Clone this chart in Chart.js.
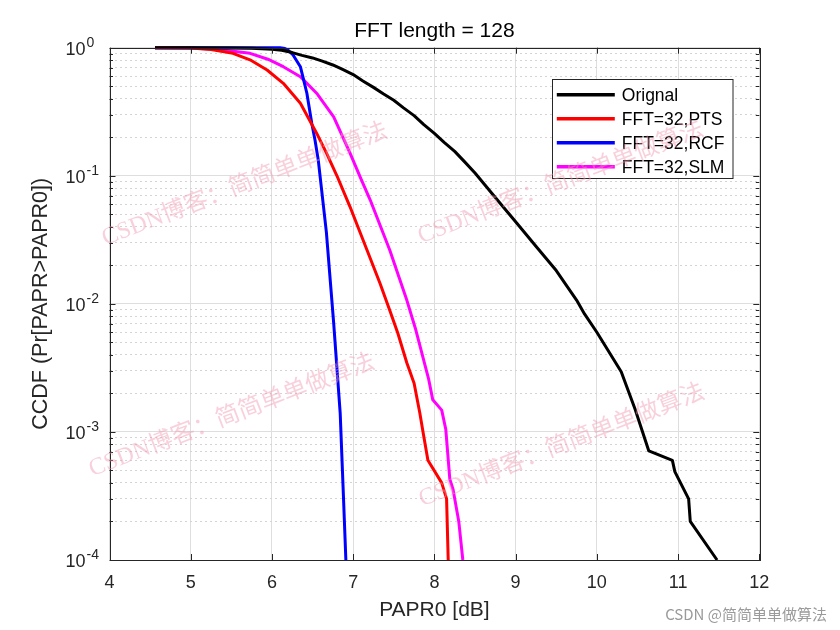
<!DOCTYPE html>
<html>
<head>
<meta charset="utf-8">
<title>FFT length = 128</title>
<script src="https://cdn.jsdelivr.net/npm/chart.js@4.4.1/dist/chart.umd.min.js"></script>
<style>
  body { margin: 0; background: #fff; }
</style>
</head>
<body>
<canvas id="myChart" width="840" height="630"></canvas>
<script>
// CCDF curves: PAPR0 [dB] -> Pr[PAPR > PAPR0]
var origX = [4.56, 5.0, 5.5, 5.75, 6.0, 6.12, 6.25, 6.37, 6.5, 6.62, 6.75, 6.87, 7.0, 7.12, 7.25, 7.37, 7.5, 7.62, 7.75, 7.87, 8.0, 8.12, 8.25, 8.37, 8.5, 8.62, 8.75, 9.0, 9.25, 9.5, 9.75, 9.85, 10.0, 10.3, 10.47, 10.64, 10.93, 10.96, 11.13, 11.15, 11.48];
var origY = [1, 1, 0.996, 0.989, 0.973, 0.955, 0.916, 0.871, 0.832, 0.785, 0.733, 0.676, 0.617, 0.55, 0.49, 0.437, 0.389, 0.339, 0.295, 0.251, 0.214, 0.182, 0.155, 0.129, 0.105, 0.0851, 0.0676, 0.0437, 0.0282, 0.0182, 0.0107, 0.0083, 0.006, 0.00295, 0.00151, 0.00071, 0.0006, 0.00049, 0.0003, 0.0002, 0.0001];

var ptsX = [4.56, 5.0, 5.25, 5.52, 5.73, 5.94, 6.14, 6.35, 6.55, 6.67, 6.8, 6.96, 7.17, 7.33, 7.45, 7.55, 7.66, 7.75, 7.82, 7.86, 7.92, 8.09, 8.15, 8.17];
var ptsY = [1, 0.993, 0.966, 0.904, 0.804, 0.67, 0.527, 0.368, 0.215, 0.151, 0.1, 0.0575, 0.0263, 0.0145, 0.0089, 0.0059, 0.00347, 0.0024, 0.00141, 0.001, 0.0006, 0.0004, 0.0003, 0.0001];

var rcfX = [4.56, 6.1, 6.16, 6.2, 6.26, 6.35, 6.39, 6.43, 6.49, 6.53, 6.57, 6.67, 6.76, 6.84, 6.88, 6.91];
var rcfY = [1, 0.998, 0.985, 0.955, 0.877, 0.711, 0.56, 0.441, 0.257, 0.19, 0.133, 0.0363, 0.00708, 0.00141, 0.000316, 0.0001];

var slmX = [4.56, 5.0, 5.3, 5.5, 5.73, 5.95, 6.14, 6.35, 6.55, 6.76, 6.96, 7.1, 7.21, 7.45, 7.66, 7.77, 7.93, 7.98, 8.09, 8.14, 8.19, 8.23, 8.3, 8.35];
var slmY = [1, 0.995, 0.973, 0.944, 0.904, 0.813, 0.711, 0.594, 0.441, 0.288, 0.151, 0.0933, 0.0646, 0.0263, 0.0107, 0.0063, 0.00257, 0.00178, 0.00148, 0.00105, 0.000427, 0.000355, 0.0002, 0.0001];

var seriesNames = ['Orignal', 'FFT=32,PTS', 'FFT=32,RCF', 'FFT=32,SLM'];
var seriesColors = ['#000000', '#ff0000', '#0000ff', '#ff00ff'];

var xTicks = [4, 5, 6, 7, 8, 9, 10, 11, 12];
var yDecades = [1, 0.1, 0.01, 0.001, 0.0001];
var yExponents = ['0', '-1', '-2', '-3', '-4'];

var FONT = '"Liberation Sans", Arial, sans-serif';

function pairs(xs, ys) {
  return xs.map(function (x, i) { return { x: x, y: ys[i] }; });
}

var yMinor = [];
yDecades.slice(1).forEach(function (d) {
  for (var k = 2; k <= 9; k++) yMinor.push(d * k);
});

// axes box + inward tick marks, like a matlab axes
var axesBox = {
  id: 'axesBox',
  afterDatasetsDraw: function (chart) {
    var c = chart.ctx, a = chart.chartArea;
    var xs = chart.scales.x, ys = chart.scales.y;
    c.save();
    c.strokeStyle = '#262626';
    c.lineWidth = 1;
    c.beginPath();
    xTicks.forEach(function (v) {
      var px = Math.round(xs.getPixelForValue(v)) + 0.5;
      c.moveTo(px, a.bottom); c.lineTo(px, a.bottom - 6);
      c.moveTo(px, a.top); c.lineTo(px, a.top + 6);
    });
    yDecades.forEach(function (v) {
      var py = Math.round(ys.getPixelForValue(v)) + 0.5;
      c.moveTo(a.left, py); c.lineTo(a.left + 6, py);
      c.moveTo(a.right, py); c.lineTo(a.right - 6, py);
    });
    yMinor.forEach(function (v) {
      var py = Math.round(ys.getPixelForValue(v)) + 0.5;
      c.moveTo(a.left, py); c.lineTo(a.left + 3.5, py);
      c.moveTo(a.right, py); c.lineTo(a.right - 3.5, py);
    });
    c.stroke();
    c.strokeRect(Math.round(a.left) + 0.5, Math.round(a.top) + 0.5,
      Math.round(a.right - a.left), Math.round(a.bottom - a.top));
    c.restore();
  },
  afterDraw: function (chart) {
    var c = chart.ctx, a = chart.chartArea, ys = chart.scales.y;
    c.save();
    // title centred over the plot box
    c.fillStyle = '#000';
    c.font = '21px ' + FONT;
    c.textAlign = 'center';
    c.textBaseline = 'middle';
    c.fillText('FFT length = 128', (a.left + a.right) / 2, 31);
    // 10^n labels with a raised exponent
    c.fillStyle = '#262626';
    yDecades.forEach(function (v, i) {
      var py = ys.getPixelForValue(v);
      c.font = '18px ' + FONT;
      c.textAlign = 'right';
      c.textBaseline = 'middle';
      c.fillText('10', a.left - 24, py + 2);
      c.font = '14px ' + FONT;
      c.textAlign = 'left';
      c.textBaseline = 'alphabetic';
      c.fillText(yExponents[i], a.left - 23, py - 1);
    });
    c.restore();
  }
};

var boxLegend = {
  id: 'boxLegend',
  afterDraw: function (chart) {
    var c = chart.ctx, a = chart.chartArea;
    var left = a.right - 207.5, top = a.top + 31.5, w = 180.5, h = 99;
    c.save();
    c.fillStyle = '#fff';
    c.fillRect(left, top, w, h);
    c.strokeStyle = '#262626';
    c.lineWidth = 1;
    c.strokeRect(Math.round(left) + 0.5, Math.round(top) + 0.5, w, h);
    chart.data.datasets.forEach(function (ds, i) {
      var cy = top + 15.5 + i * 24;
      c.strokeStyle = ds.borderColor;
      c.lineWidth = 3.5;
      c.beginPath();
      c.moveTo(left + 5, cy);
      c.lineTo(left + 63, cy);
      c.stroke();
      c.fillStyle = '#000';
      c.font = '17.5px ' + FONT;
      c.textBaseline = 'middle';
      c.fillText(ds.label, left + 70, cy + 1);
    });
    c.restore();
  }
};

var watermark = {
  id: 'watermark',
  afterDraw: function (chart) {
    var c = chart.ctx;
    var spots = [[245, 185], [561, 183], [232, 416], [562, 446]];
    c.save();
    c.fillStyle = 'rgba(240, 150, 175, 0.45)';
    c.font = '24px "Liberation Serif", "Noto Sans CJK SC", serif';
    c.textAlign = 'center';
    c.textBaseline = 'middle';
    spots.forEach(function (p) {
      c.save();
      c.translate(p[0], p[1]);
      c.rotate(-21 * Math.PI / 180);
      c.fillText('CSDN博客：简简单单做算法', 0, 0);
      c.restore();
    });
    c.fillStyle = '#9a9a9a';
    c.font = '15px "Noto Sans CJK SC", sans-serif';
    c.textAlign = 'right';
    c.fillText('CSDN @简简单单做算法', 827, 614);
    c.restore();
  }
};

var ctx = document.getElementById('myChart');

var myChart = new Chart(ctx, {
  type: 'line',
  data: {
    datasets: [
      { label: seriesNames[0], data: pairs(origX, origY), borderColor: seriesColors[0] },
      { label: seriesNames[1], data: pairs(ptsX, ptsY), borderColor: seriesColors[1] },
      { label: seriesNames[2], data: pairs(rcfX, rcfY), borderColor: seriesColors[2] },
      { label: seriesNames[3], data: pairs(slmX, slmY), borderColor: seriesColors[3] }
    ]
  },
  options: {
    responsive: false,
    animation: false,
    clip: false,
    layout: { padding: { top: 47.7, right: 80.7 } },
    elements: {
      point: { radius: 0 },
      line: { borderWidth: 3, fill: false, tension: 0, borderJoinStyle: 'round' }
    },
    plugins: {
      legend: { display: false },
      tooltip: { enabled: false },
      title: { display: false }
    },
    scales: {
      x: {
        type: 'linear',
        min: 4,
        max: 12,
        afterBuildTicks: function (s) { s.ticks = xTicks.map(function (v) { return { value: v }; }); },
        afterFit: function (s) { s.height = 70; },
        ticks: { color: '#262626', font: { family: FONT, size: 18 }, padding: 12, maxRotation: 0 },
        grid: { color: '#dedede', lineWidth: 1, drawTicks: false },
        border: { display: false },
        title: {
          display: true,
          text: 'PAPR0 [dB]',
          color: '#262626',
          font: { family: FONT, size: 21 },
          padding: { top: 0, bottom: 7 }
        }
      },
      y: {
        type: 'logarithmic',
        min: 0.0001,
        max: 1,
        afterBuildTicks: function (s) { s.ticks = yDecades.map(function (v) { return { value: v, major: true }; }); },
        afterFit: function (s) { s.width = 109.5; },
        ticks: { display: false },
        grid: { color: '#dedede', lineWidth: 1, drawTicks: false },
        border: { display: false },
        title: {
          display: true,
          text: 'CCDF (Pr[PAPR>PAPR0])',
          color: '#262626',
          font: { family: FONT, size: 21.5 },
          padding: { top: 28, bottom: 0 }
        }
      },
      yMinor: {
        type: 'logarithmic',
        position: 'left',
        min: 0.0001,
        max: 1,
        afterBuildTicks: function (s) { s.ticks = yMinor.map(function (v) { return { value: v }; }); },
        afterFit: function (s) { s.width = 0; },
        ticks: { display: false },
        grid: { color: '#d4d4d4', lineWidth: 1, drawTicks: false },
        border: { display: false, dash: [2, 3] }
      }
    }
  },
  plugins: [axesBox, boxLegend, watermark]
});
</script>
</body>
</html>
